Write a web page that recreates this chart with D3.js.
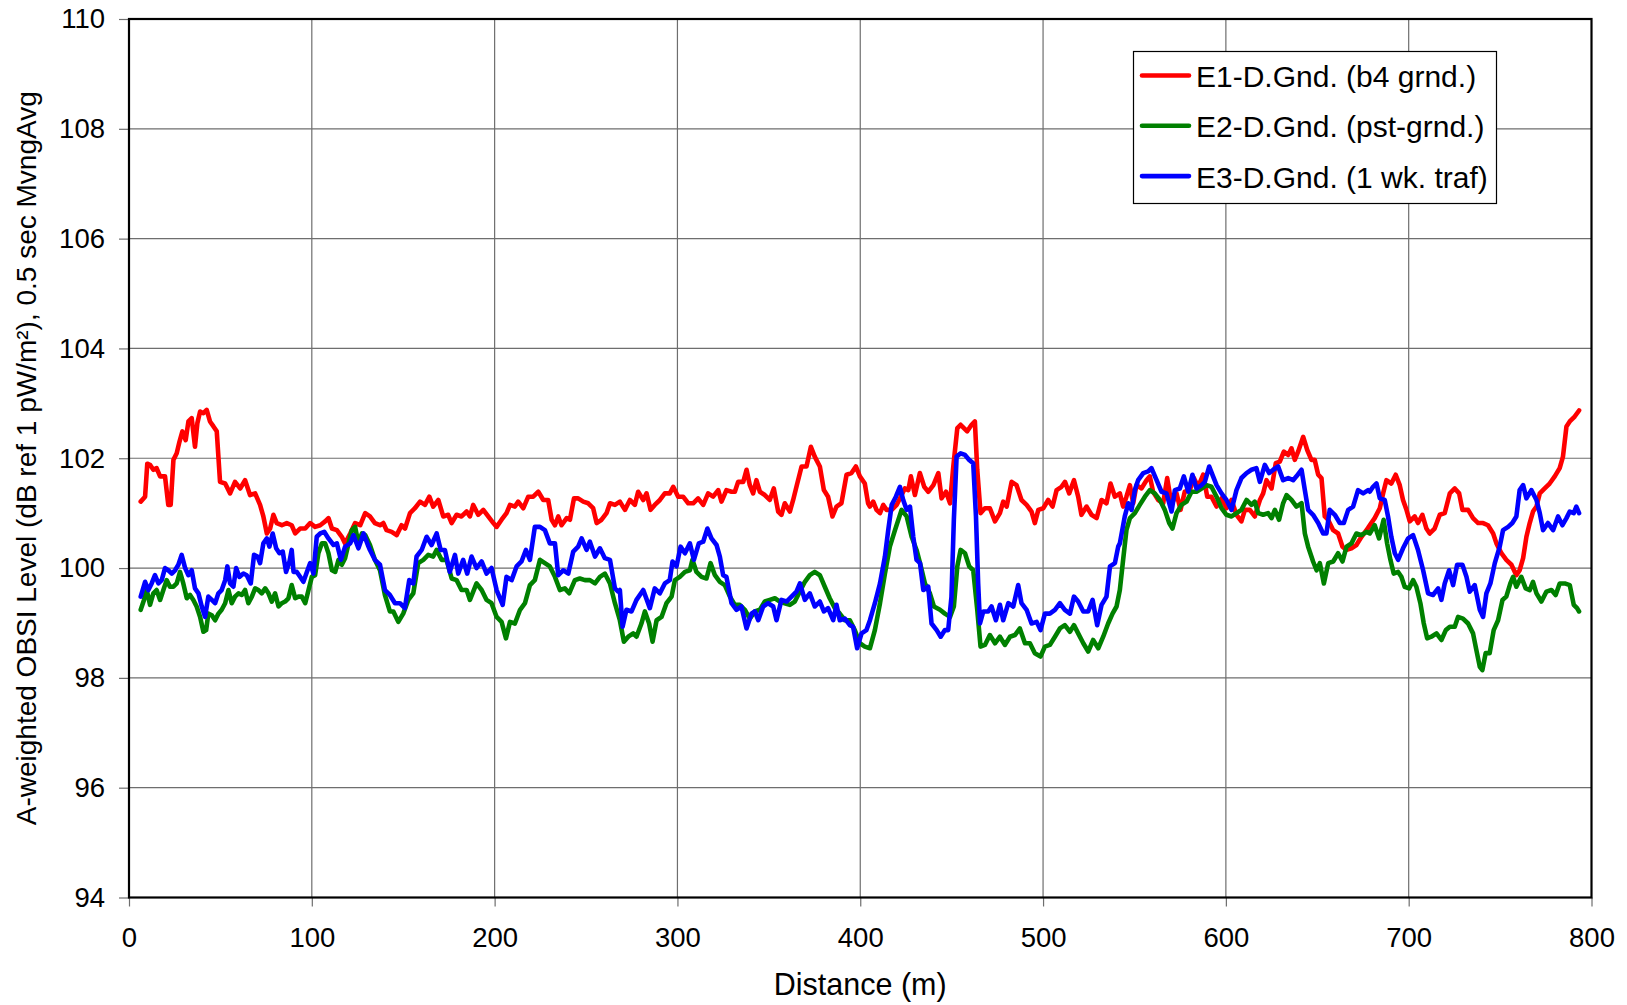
<!DOCTYPE html>
<html><head><meta charset="utf-8">
<script src="https://cdn.jsdelivr.net/npm/d3@7"></script>
<style>html,body{margin:0;padding:0;background:#fff}svg{display:block;font-family:"Liberation Sans",Arial,sans-serif}</style>
</head><body>
<svg id="chart" width="1627" height="1005"></svg>
<script>
const xTicks = [0,100,200,300,400,500,600,700,800];
const yTicks = [94,96,98,100,102,104,106,108,110];
const seriesNames = ["E1-D.Gnd. (b4 grnd.)","E2-D.Gnd. (pst-grnd.)","E3-D.Gnd. (1 wk. traf)"];
const seriesColors = ["#ff0000","#008000","#0000ff"];

// [distance m, level dB]
const e1 = [[6.4,101.21],[8.8,101.3],[10,101.9],[11.5,101.88],[13.3,101.79],[15.1,101.82],[17,101.67],[19.7,101.67],[21.5,101.15],[22.8,101.15],[24.3,101.97],[26.1,102.09],[27.6,102.3],[29.2,102.49],[31,102.33],[32.5,102.67],[34.3,102.73],[36.1,102.21],[37.4,102.64],[38.9,102.85],[40.7,102.82],[42.5,102.88],[44.3,102.67],[46.2,102.58],[48,102.49],[49.8,101.57],[52.6,101.54],[55.3,101.36],[58,101.57],[60.8,101.45],[63.5,101.6],[66.2,101.33],[69,101.36],[71.7,101.15],[73.5,100.94],[75.4,100.63],[77.2,100.72],[79,100.97],[80.8,100.82],[83.6,100.78],[86.3,100.82],[89,100.78],[90.9,100.63],[93.6,100.72],[96.4,100.72],[99.1,100.82],[101.8,100.75],[104.6,100.78],[107.3,100.85],[109.1,100.91],[111,100.72],[113.7,100.69],[116.4,100.57],[118.2,100.45],[121,100.63],[123.7,100.82],[126.5,100.78],[129.2,101.0],
[131.8,100.94],[134.5,100.82],[137.3,100.78],[139.1,100.82],[140.9,100.69],[143.7,100.66],[146.4,100.6],[149.1,100.78],[151,100.72],[153.7,101.0],[156.4,101.09],[159.2,101.21],[161.9,101.15],[164.3,101.3],[166.4,101.12],[169.2,101.24],[171.9,100.94],[174.6,100.97],[176.5,100.82],[179.2,100.97],[181.9,100.94],[184.7,101.03],[186.5,100.94],[188.3,101.15],[191,100.97],[193.8,101.06],[196.5,100.94],[199.3,100.82],[201.1,100.75],[203.8,100.88],[206.5,101.0],[208.4,101.15],[211.1,101.12],[212.9,101.21],[215.7,101.09],[218.4,101.3],[221.1,101.3],[223.9,101.39],[226.6,101.24],[229.3,101.24],[231.2,100.88],[233,100.78],[234.8,100.94],[236.6,100.78],[239.4,100.91],[241.2,100.88],[243.4,101.27],[245.7,101.27],[248.5,101.21],[251.2,101.18],[253.9,101.09],[255.8,100.82],[258.5,100.88],[261.2,101.0],[263.1,101.18],[265.8,101.15],
[268.5,101.21],[271.3,101.06],[274,101.24],[276.7,101.15],[278.5,101.39],[281.3,101.24],[283.1,101.36],[285.3,101.06],[287.6,101.15],[290.4,101.24],[293.1,101.36],[295.8,101.36],[297.7,101.48],[300.4,101.3],[303.1,101.3],[305.9,101.18],[308.6,101.18],[311.3,101.27],[314.1,101.15],[316.8,101.36],[319.5,101.3],[322.3,101.42],[324.1,101.21],[326.8,101.42],[329.6,101.39],[331.4,101.39],[333.2,101.57],[336,101.57],[337.8,101.79],[339.6,101.51],[341.4,101.36],[343.2,101.6],[345.1,101.39],[347.8,101.33],[350.5,101.24],[352.7,101.45],[355.1,101.03],[356.9,100.97],[358.7,101.18],[361.5,101.03],[363.3,101.24],[365.1,101.48],[367.9,101.85],[370.6,101.85],[373,102.21],[375.1,102.03],[377.9,101.85],[380.1,101.42],[382.4,101.3],[384.8,100.94],[387,101.12],[389.7,101.18],[392.5,101.7],[395.2,101.73],[397.6,101.85],[399.8,101.67],[402.5,101.54],[404.3,101.18],
[405.3,101.12],[407.1,101.21],[408.9,101.06],[410.8,101.0],[412.6,101.15],[414.4,101.06],[417.2,101.06],[419.9,101.15],[422.6,101.33],[424.4,101.45],[426.3,101.42],[427.7,101.67],[429.9,101.33],[432.6,101.73],[435,101.48],[437.2,101.39],[440,101.51],[442.7,101.73],[444.5,101.27],[446.9,101.39],[449.1,101.18],[450.9,101.85],[453.1,102.55],[454.9,102.61],[456.7,102.55],[458.5,102.49],[460.9,102.61],[462.7,102.67],[464,101.79],[465.8,101.0],[468.2,101.09],[470.9,101.09],[473.7,100.85],[476.4,101.0],[478.2,101.21],[480.1,101.12],[482.8,101.57],[485.5,101.51],[488.2,101.24],[491,101.15],[493.7,101.03],[495.5,100.82],[497.4,101.06],[500.1,101.09],[502.8,101.24],[505.2,101.12],[507.4,101.42],[510.1,101.48],[512,101.57],[514.3,101.36],[516.9,101.6],[519.2,101.3],[521,100.97],[523.8,101.12],[526.5,100.97],[529.3,100.91],[532,101.24],[534.7,101.18],[536.9,101.54],[539.3,101.3],
[542,101.36],[543.8,101.12],[545.6,101.3],[547.5,101.51],[549.3,101.18],[551.1,101.51],[553.8,101.45],[556.6,101.6],[558.4,101.67],[560.2,101.39],[563,101.24],[565.7,101.18],[567.9,101.64],[570.3,101.15],[573,101.36],[575.2,101.06],[577.5,101.39],[580.3,101.42],[582.5,101.64],[584.8,101.48],[587.6,101.7],[589.8,101.3],[592.1,101.3],[594.9,101.12],[597.6,101.27],[600.3,101.09],[603.1,101.24],[605.8,100.97],[608.5,100.85],[610.4,101.06],[613.1,101.06],[615.8,100.94],[618.6,101.24],[620.4,101.36],[622.2,101.6],[625,101.45],[627.3,101.91],[629.5,101.94],[631.7,102.12],[634.1,102.06],[635.9,102.18],[637.7,101.97],[639.5,102.12],[642.3,102.39],[644.5,102.15],[646.8,101.97],[648.6,101.97],[650.5,101.7],[652.3,101.64],[654.1,100.94],[655.9,100.88],[658.7,100.69],[661.4,100.63],[663.8,100.39],[666,100.33],[668.7,100.36],[671.4,100.42],[674.2,100.57],[676.9,100.69],
[678.7,100.78],[681.4,100.91],[684.2,101.09],[686,101.36],[687.8,101.6],[690.5,101.54],[692.9,101.7],[695.1,101.51],[696.9,101.24],[698.8,101.06],[700.6,100.85],[703.3,100.94],[705.1,100.82],[707.5,100.97],[709.7,100.72],[711.5,100.63],[714.2,100.72],[717,100.97],[719.7,101.0],[722.5,101.36],[725.2,101.45],[727.6,101.36],[729.4,101.06],[732.5,101.06],[735.2,100.91],[738,100.82],[740.7,100.82],[743.4,100.78],[746.2,100.63],[748,100.45],[750.7,100.27],[753.4,100.15],[756.2,100.06],[758.9,99.87],[760.7,99.96],[762.6,100.18],[764.4,100.57],[766.2,100.82],[768,101.03],[769.9,101.12],[771.7,101.36],[774.4,101.45],[777.1,101.54],[779.9,101.67],[782.6,101.82],[784.4,102.03],[786.3,102.58],[788.1,102.67],[790.8,102.76],[793.2,102.87]];

const e2 = [[6.4,99.24],[8.2,99.42],[9.7,99.6],[11.5,99.33],[13.3,99.54],[15.1,99.6],[17,99.42],[18.8,99.6],[20.6,99.78],[22.4,99.66],[24.3,99.66],[26.1,99.72],[27.9,99.93],[29.7,99.72],[31.6,99.45],[33.4,99.51],[35.2,99.42],[37,99.3],[38.9,99.11],[40.7,98.84],[42.2,98.87],[43.4,99.17],[45.3,99.14],[47.1,99.05],[48.9,99.17],[50.7,99.24],[52.6,99.36],[54.4,99.6],[56.2,99.36],[58,99.48],[59.9,99.54],[61.7,99.51],[63.5,99.6],[65.3,99.36],[67.2,99.48],[69,99.63],[70.8,99.6],[72.6,99.54],[74.5,99.63],[76.3,99.54],[78.1,99.39],[79.9,99.54],[81.8,99.3],[83.6,99.36],[85.4,99.39],[87.2,99.45],[89,99.69],[90.9,99.45],[92.7,99.48],[94.5,99.48],[96.4,99.36],[98.2,99.6],[100,99.84],[101.8,99.87],[103.6,100.27],[105.5,100.45],[107.3,100.45],[109.1,100.27],[111,99.96],[112.8,99.93],[114.6,100.15],[116.4,100.06],[118.2,100.18],[120.1,100.45],[121.9,100.69],[123.7,100.75],[125.5,100.45],[127.4,100.63],[129.2,100.6],
[131.8,100.42],[134.5,100.15],[137.3,99.96],[140,99.51],[142.7,99.21],[144.6,99.21],[147.3,99.02],[150,99.17],[152.8,99.42],[155.5,99.54],[158.2,100.09],[161,100.15],[163.7,100.24],[166.4,100.21],[168.3,100.33],[171,100.15],[173.7,100.15],[176.5,99.81],[179.2,99.78],[181.9,99.6],[184.7,99.6],[186.5,99.42],[190.1,99.72],[192.9,99.6],[195.6,99.42],[198.3,99.36],[201.1,99.11],[203.8,99.02],[206.2,98.72],[208.4,99.02],[211.1,98.99],[213.9,99.24],[216.6,99.36],[219.3,99.69],[222,99.78],[224.8,100.15],[227.5,100.09],[230.2,100.03],[233,99.84],[235.7,99.6],[238.4,99.63],[240.8,99.54],[243.9,99.78],[246.6,99.81],[249.4,99.78],[252.1,99.78],[254.9,99.72],[257.6,99.84],[260.3,99.9],[263.1,99.72],[265.8,99.36],
[268.5,99.05],[270.7,98.66],[273.1,98.75],[275.8,98.81],[277.6,98.75],[280.3,98.99],[282.2,99.21],[284.5,98.99],[286.4,98.66],[288.6,99.05],[291.3,99.11],[294,99.36],[296.8,99.48],[298.6,99.78],[301.3,99.84],[304.1,99.93],[306.8,99.96],[308.2,100.15],[310.4,99.93],[313.2,99.84],[315.9,99.81],[318.1,100.09],[320.5,99.87],[323.2,99.75],[325.9,99.69],[328.7,99.48],[331.4,99.33],[334.1,99.33],[336.9,99.24],[339.6,99.08],[342.3,99.21],[345.1,99.24],[347.8,99.39],[350.5,99.42],[353.3,99.45],[356,99.39],[358.7,99.36],[361.5,99.33],[364.2,99.39],[366.9,99.57],[369.7,99.75],[372.4,99.87],[375.1,99.93],[377.9,99.87],[380.6,99.66],[383.3,99.45],[386.1,99.27],[388.8,99.17],[391.6,99.05],[394.3,99.05],[397,98.87],[399.8,98.63],[402.5,98.57],
[405.3,98.54],[408,98.87],[410.8,99.36],[413.5,99.9],[416.2,100.39],[419,100.69],[422.6,101.06],[425.4,100.94],[428.1,100.57],[430.8,100.33],[432.7,100.09],[435.4,99.72],[438.1,99.54],[440.3,99.3],[443.6,99.24],[446.3,99.17],[449.1,99.11],[451.2,99.3],[453.1,100.03],[454.9,100.33],[457.3,100.27],[459.6,100.03],[461.8,99.96],[464,99.24],[465.8,98.57],[468.2,98.6],[470.9,98.78],[473.7,98.63],[476.4,98.75],[479.1,98.6],[481.9,98.75],[484.6,98.78],[487.3,98.9],[490.1,98.63],[492.8,98.63],[495.5,98.45],[498.6,98.39],[501,98.57],[503.7,98.6],[506.5,98.75],[509.2,98.9],[511.9,98.96],[514.7,98.84],[516.9,98.96],[519.2,98.81],[522,98.63],[524.7,98.48],[527.4,98.69],[530.2,98.54],[532.9,98.75],[535.6,98.99],[538,99.17],[540.2,99.3],
[542,99.6],[543.8,100.15],[545.6,100.69],[547.5,100.91],[550.2,101.0],[552.9,101.15],[555.7,101.3],[558.4,101.42],[561.1,101.36],[563.9,101.24],[566.6,101.06],[569,100.82],[570.8,100.72],[573,101.0],[575.7,101.15],[578.5,101.21],[581.2,101.39],[583.9,101.39],[586.7,101.45],[589.4,101.51],[592.1,101.48],[594.9,101.3],[597.6,101.09],[600.3,100.97],[603.1,100.94],[605.8,101.0],[608.5,101.06],[611.3,101.24],[614,101.15],[615.8,101.21],[617.7,101.0],[620.4,100.97],[623.1,101.0],[625,100.91],[626.8,101.06],[629.1,100.88],[631.3,101.18],[633.2,101.33],[635.9,101.24],[638.6,101.12],[641.4,101.18],[643.2,100.63],[645,100.39],[647.7,100.12],[649.6,99.96],[651.4,100.09],[653.6,99.72],[656,100.09],[658.7,100.12],[661.4,100.27],[663.8,100.12],[666,100.39],[668.7,100.45],[671.4,100.63],[674.2,100.6],[676.9,100.66],
[678.7,100.63],[681.4,100.78],[683.8,100.54],[686.3,100.88],[688.2,100.45],[690,100.15],[691.8,99.9],[694.2,99.93],[696,99.84],[697.8,99.66],[700.2,99.63],[702.4,99.78],[704.2,99.66],[706.4,99.36],[708.2,99.0],[710.1,98.72],[712.4,98.75],[715.2,98.81],[717.9,98.69],[720.3,98.87],[722.5,98.93],[725.2,98.93],[727,99.11],[729.7,99.08],[732.5,98.99],[735.2,98.81],[737,98.51],[738.9,98.2],[740.3,98.14],[742.1,98.45],[744.3,98.45],[746.5,98.87],[748.9,99.05],[751.3,99.42],[753.4,99.48],[755.6,99.72],[757.1,99.84],[758.9,99.66],[761.6,99.84],[764,99.63],[766.2,99.6],[768,99.75],[769.9,99.54],[772.6,99.39],[775.3,99.57],[778.1,99.6],[780.4,99.51],[782.6,99.72],[785.4,99.72],[788.1,99.69],[790.3,99.33],[792.1,99.27],[793.2,99.21]];

const e3 = [[6.4,99.48],[8.8,99.75],[10.6,99.6],[12.4,99.72],[14.2,99.87],[16.1,99.72],[17.9,99.78],[19.7,100.0],[21.5,99.96],[23.4,99.9],[25.2,99.96],[27,100.06],[28.8,100.24],[30.7,100.0],[32.5,99.87],[34.3,99.96],[36.1,99.63],[38,99.54],[39.8,99.3],[41.6,99.11],[43.4,99.48],[45.3,99.42],[47.1,99.36],[48.9,99.54],[50.7,99.6],[52.6,99.78],[53.8,100.03],[55.3,99.72],[57.1,99.66],[58.6,100.0],[60.4,99.84],[62.6,99.9],[64.4,99.87],[66.6,99.72],[68.4,100.24],[70.3,100.21],[71.7,100.09],[73.5,100.45],[75.4,100.54],[76.8,100.39],[78.6,100.63],[80.5,100.36],[82.3,100.27],[84.1,100.3],[85.9,99.93],[87.8,100.12],[89,100.33],[90,99.93],[91.8,99.93],[93.6,99.84],[95.4,99.75],[97.3,99.93],[99.1,100.09],[100.9,99.9],[102.7,100.57],[104.6,100.63],[106.8,100.66],[109.1,100.54],[111.9,100.42],[113.7,100.45],[115.9,100.15],[118.2,100.39],[121,100.45],[122.8,100.6],[125.5,100.36],[128.3,100.63],[131,100.39],
[131.8,100.33],[134.5,100.15],[137.3,100.06],[140,99.6],[142.7,99.51],[145.5,99.36],[148.2,99.36],[150.9,99.27],[153.3,99.78],[155.5,99.72],[157.3,100.21],[160.1,100.33],[162.8,100.57],[165.5,100.42],[168.3,100.63],[170.5,100.33],[172.8,100.33],[175.5,99.93],[178.3,100.24],[180.1,99.9],[182.8,100.15],[185,99.9],[187.4,100.21],[190.1,100.0],[192.9,100.12],[195.6,99.9],[198.3,100.0],[201.1,99.6],[204.4,99.33],[206.5,99.84],[209.3,99.78],[212,100.03],[214.7,100.12],[217.1,100.33],[219.3,100.15],[222,100.75],[224.8,100.75],[227.5,100.69],[230.2,100.45],[233,100.45],[234.8,99.87],[237.5,99.96],[240.3,99.9],[243,100.3],[245.7,100.39],[247.6,100.54],[250.3,100.33],[252.1,100.48],[254.9,100.21],[257.6,100.36],[260.3,100.18],[263.1,100.15],[265.8,99.63],[267.6,99.57],
[268.5,99.6],[270,98.93],[272.1,99.24],[274.9,99.21],[277.6,99.42],[281.3,99.6],[284.9,99.27],[287.6,99.63],[290.4,99.54],[293.1,99.72],[295.8,99.78],[297.3,100.12],[299.5,100.03],[301.7,100.39],[304.1,100.27],[306.8,100.45],[309,100.15],[311.7,100.45],[314.1,100.48],[316.4,100.72],[318.6,100.54],[321.4,100.42],[323.2,100.21],[325,99.87],[326.8,99.84],[329.6,99.36],[332.3,99.24],[335,99.3],[337.8,98.9],[340.5,99.17],[342.3,99.21],[344.2,99.05],[346.9,99.3],[349.6,99.36],[352.4,99.3],[354.2,99.05],[356.9,99.42],[359.7,99.39],[362.4,99.48],[365.1,99.57],[367,99.72],[369.7,99.42],[372.4,99.54],[375.1,99.3],[377.9,99.39],[380.1,99.21],[382.4,99.27],[385.2,99.05],[387,99.33],[388.8,99.05],[391.6,99.08],[394.3,98.96],[396.1,98.93],[398.3,98.54],[400.7,98.81],[403.4,98.87],
[405.3,99.05],[408,99.36],[410.8,99.72],[413.5,100.21],[415.3,100.69],[417.2,101.15],[419.5,101.3],[421.7,101.48],[423.5,101.24],[425.4,101.06],[427.2,101.12],[429,100.57],[430.8,100.15],[432.7,100.09],[434.5,99.6],[437.2,99.66],[439,98.99],[441.8,98.87],[444,98.75],[446.3,98.87],[448.1,98.87],[449.9,99.48],[451.2,100.88],[452.7,102.03],[454.9,102.09],[457.3,102.06],[459.6,101.97],[461.8,101.91],[463.3,100.94],[464.5,99.72],[465.5,98.99],[467.3,99.21],[470,99.21],[471.8,99.3],[474.2,99.05],[476.4,99.33],[478.2,99.05],[481,99.36],[483.7,99.3],[486.4,99.69],[488.2,99.36],[491,99.24],[493.7,98.99],[496.5,99.02],[498.6,98.87],[501,99.17],[503.7,99.17],[506.5,99.24],[509.2,99.36],[511.9,99.24],[514.7,99.17],[516.9,99.48],[519.2,99.39],[522,99.21],[524.7,99.21],[527.1,99.42],[529.6,98.96],[532,99.33],[534.7,99.48],[536.6,100.03],[539.3,100.09],[541.1,100.39],
[542,100.45],[544.7,100.94],[546.6,101.18],[548.4,101.06],[550.2,101.42],[552,101.6],[554.8,101.73],[557.5,101.76],[559.3,101.82],[562.1,101.6],[564.8,101.39],[567.5,101.36],[570.3,101.03],[572.1,101.42],[574.8,101.45],[577,101.67],[579.4,101.39],[581.7,101.7],[583.9,101.45],[586.7,101.51],[588.5,101.57],[590.9,101.85],[593,101.67],[594.9,101.51],[597.6,101.36],[600.3,101.24],[603.1,101.06],[605.8,101.42],[608.5,101.64],[611.3,101.73],[614,101.79],[616.7,101.82],[618.6,101.57],[621.3,101.88],[623.7,101.73],[625.9,101.79],[628.6,101.85],[631.3,101.6],[634.1,101.64],[636.8,101.6],[638.6,101.67],[641.4,101.79],[643.2,101.42],[645,101.06],[647.7,100.97],[650.5,100.82],[653.2,100.63],[655,100.63],[656.8,101.06],[659.6,100.97],[662.3,100.82],[664.5,100.82],[666.9,101.06],[669.6,101.12],[672.3,101.42],[675.1,101.36],[677.8,101.42],
[678.7,101.39],[680.5,101.48],[682.4,101.54],[684.2,101.27],[686.9,101.24],[688.7,100.94],[690.5,100.57],[692.4,100.27],[694.2,100.15],[696.9,100.36],[699.7,100.54],[702.4,100.6],[705.1,100.33],[707.9,99.96],[710.6,99.54],[713.3,99.51],[716.1,99.63],[717.9,99.42],[719.7,99.72],[722.1,99.96],[724.3,99.69],[726.5,100.06],[729.4,100.06],[731.6,99.84],[733.4,99.57],[736.1,99.69],[738.9,99.24],[740.7,99.11],[742.5,99.54],[744.7,99.72],[747.1,100.09],[749.8,100.39],[751.6,100.69],[754.4,100.75],[756.7,100.82],[758.9,100.94],[760.7,101.42],[762.6,101.51],[764.4,101.27],[767.1,101.42],[769.9,101.24],[771.7,101.0],[773.5,100.69],[776.2,100.82],[779,100.69],[781.7,100.94],[784.1,100.78],[786.3,100.91],[788.1,101.03],[790.3,101.0],[791.7,101.12],[793.2,101.0]];

const series = [e1, e2, e3];

const svg = d3.select("#chart");
const L = 129, R = 1591.5, T = 19, B = 897.5;
const x = d3.scaleLinear().domain([0, 800]).range([L, R]);
const y = d3.scaleLinear().domain([94, 110]).range([B, T]);
const FS = 27.5;
const FONT = "Liberation Sans, Arial, sans-serif";

// gridlines
const grid = svg.append("g");
grid.selectAll("line.h").data(yTicks.slice(1, -1)).join("line")
  .attr("x1", L).attr("x2", R).attr("y1", d => y(d)).attr("y2", d => y(d))
  .attr("stroke", "#6e6e6e").attr("stroke-width", 1.2);
grid.selectAll("line.v").data(xTicks.slice(1, -1)).join("line")
  .attr("y1", T).attr("y2", B).attr("x1", d => x(d)).attr("x2", d => x(d))
  .attr("stroke", "#6e6e6e").attr("stroke-width", 1.2);

// axes
const xAxis = d3.axisBottom(x).tickValues(xTicks).tickSize(9).tickPadding(21).tickFormat(d3.format("d"));
const gx = svg.append("g").attr("transform", `translate(0,${B})`).call(xAxis);
gx.select(".domain").remove();
gx.selectAll(".tick line").attr("stroke", "#6e6e6e").attr("stroke-width", 1.2);
gx.selectAll("text").attr("font-size", FS).attr("fill", "#000").attr("font-family", FONT);

const yAxis = d3.axisLeft(y).tickValues(yTicks).tickSize(10).tickPadding(14).tickFormat(d3.format("d"));
const gy = svg.append("g").attr("transform", `translate(${L},0)`).call(yAxis);
gy.select(".domain").remove();
gy.selectAll(".tick line").attr("stroke", "#6e6e6e").attr("stroke-width", 1.2);
gy.selectAll("text").attr("font-size", FS).attr("fill", "#000").attr("font-family", FONT);

// lines
const line = d3.line().x(d => x(d[0])).y(d => y(d[1]));
series.forEach((s, i) => {
  svg.append("path").datum(s).attr("d", line)
    .attr("fill", "none").attr("stroke", seriesColors[i])
    .attr("stroke-width", 4.6).attr("stroke-linejoin", "round").attr("stroke-linecap", "round");
});

// frame
svg.append("rect").attr("x", L).attr("y", T).attr("width", R - L).attr("height", B - T)
  .attr("fill", "none").attr("stroke", "#000").attr("stroke-width", 2.2);

// axis titles
svg.append("text").attr("x", (L + R) / 2).attr("y", 995).attr("text-anchor", "middle")
  .attr("font-size", 30.5).text("Distance (m)");
svg.append("text").attr("transform", `translate(36,${(T + B) / 2}) rotate(-90)`)
  .attr("text-anchor", "middle").attr("font-size", 28)
  .text("A-weighted OBSI Level (dB ref 1 pW/m²), 0.5 sec MvngAvg");

// legend
const lg = svg.append("g");
lg.append("rect").attr("x", 1133.5).attr("y", 51.5).attr("width", 363).attr("height", 152)
  .attr("fill", "#fff").attr("stroke", "#000").attr("stroke-width", 1.2);
seriesNames.forEach((n, i) => {
  const cy = 75.5 + i * 50.3;
  lg.append("line").attr("x1", 1142).attr("x2", 1189).attr("y1", cy).attr("y2", cy)
    .attr("stroke", seriesColors[i]).attr("stroke-width", 4.6).attr("stroke-linecap", "round");
  lg.append("text").attr("x", 1196).attr("y", cy + 11.5).attr("font-size", 30).text(n);
});
</script>
</body></html>
